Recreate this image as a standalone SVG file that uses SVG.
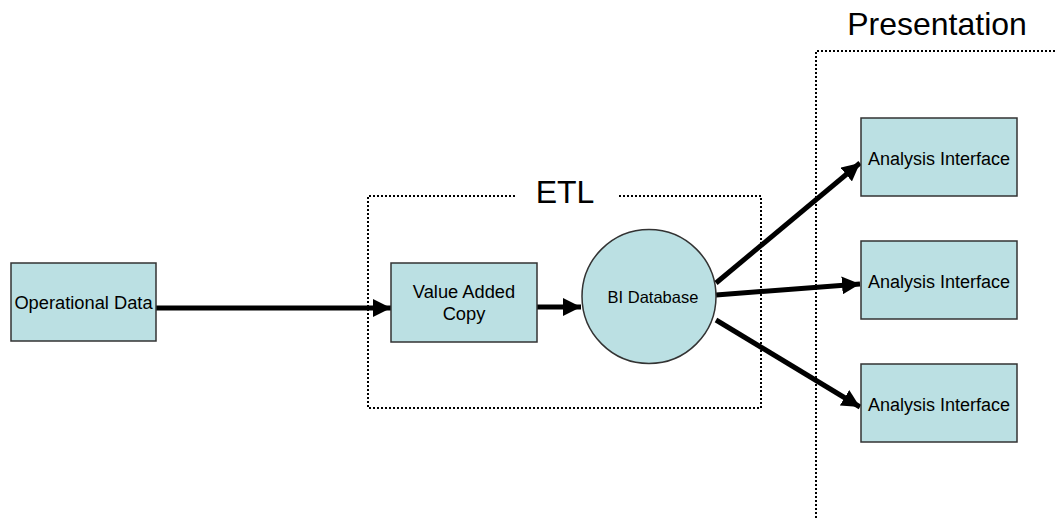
<svg xmlns="http://www.w3.org/2000/svg" width="1055" height="518" viewBox="0 0 1055 518">
<style>
.box{fill:#BBE0E3;stroke:#333;stroke-width:1.5}
.t{font-family:"Liberation Sans",Arial,sans-serif;fill:#000;text-anchor:middle}
.dot{fill:none;stroke:#000;stroke-width:2.2;stroke-dasharray:2 2;shape-rendering:crispEdges}
.conn{stroke:#000;stroke-width:5;fill:none}
</style>
<defs>
<marker id="ah" markerUnits="userSpaceOnUse" markerWidth="20" markerHeight="18" refX="18" refY="9" orient="auto">
<path d="M0,0 L18,9 L0,18 Z" fill="#000"/>
</marker>
</defs>
<rect width="1055" height="518" fill="#fff"/>
<g id="etl-group">
<path class="dot" d="M515,196 H368 V408 H761 V196 H618"/>
<text class="t" x="565" y="203" font-size="32">ETL</text>
</g>
<g id="presentation-group">
<path class="dot" d="M1055,51 H816 V518"/>
<text class="t" x="937" y="35" font-size="32">Presentation</text>
</g>
<g id="connectors">
<line class="conn" x1="156" y1="308" x2="391" y2="308" marker-end="url(#ah)"/>
<line class="conn" x1="537" y1="307" x2="581" y2="307" marker-end="url(#ah)"/>
<line class="conn" x1="716" y1="283" x2="860" y2="163" marker-end="url(#ah)"/>
<line class="conn" x1="716" y1="295" x2="860" y2="284" marker-end="url(#ah)"/>
<line class="conn" x1="716" y1="320" x2="860" y2="407" marker-end="url(#ah)"/>
</g>
<g id="operational-data">
<rect class="box" x="11" y="263" width="145" height="78"/>
<text class="t" x="83.5" y="309" font-size="18.3">Operational Data</text>
</g>
<g id="value-added-copy">
<rect class="box" x="391" y="263" width="146" height="79"/>
<text class="t" x="464" y="298" font-size="18.3">Value Added</text>
<text class="t" x="464" y="320" font-size="18.3">Copy</text>
</g>
<g id="bi-database">
<circle class="box" cx="649" cy="296.5" r="67"/>
<text class="t" x="653" y="303" font-size="16.5">BI Database</text>
</g>
<g id="analysis-1">
<rect class="box" x="861" y="118" width="156" height="78"/>
<text class="t" x="939" y="165" font-size="18">Analysis Interface</text>
</g>
<g id="analysis-2">
<rect class="box" x="861" y="241" width="156" height="78"/>
<text class="t" x="939" y="288" font-size="18">Analysis Interface</text>
</g>
<g id="analysis-3">
<rect class="box" x="861" y="364" width="156" height="78"/>
<text class="t" x="939" y="411" font-size="18">Analysis Interface</text>
</g>
</svg>
